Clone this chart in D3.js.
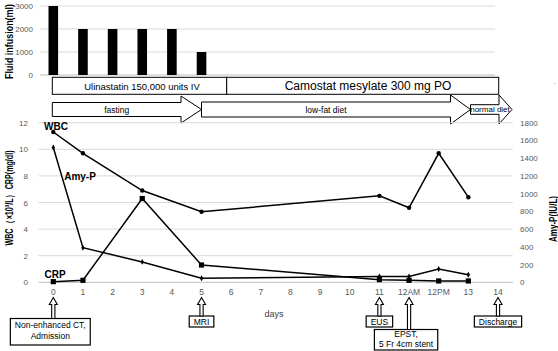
<!DOCTYPE html>
<html>
<head>
<meta charset="utf-8">
<script src="https://cdn.jsdelivr.net/npm/d3@7"></script>
<style>
body { margin: 0; background: #fff; }
svg { font-family: "Liberation Sans", Arial, sans-serif; }
</style>
</head>
<body>
<svg id="chart" width="558" height="351"></svg>
<script>
// category axis of the lower chart
const days = ["0","1","2","3","4","5","6","7","8","9","10","11","12AM","12PM","13","14"];

// fluid infusion (ml)
const fluidDays = ["0","1","2","3","4","5"];
const fluidValues = [3000, 2000, 2000, 2000, 2000, 1000];
const fluidTicks = [0, 1000, 2000, 3000];

// lab values
const labDays = ["0","1","3","5","11","12AM","12PM","13"];
const wbc = [11.3, 9.7, 6.9, 5.3, 6.5, 5.6, 9.7, 6.4];
const crp = [0.05, 0.15, 6.3, 1.3, 0.2, 0.15, 0.1, 0.1];
const amyP = [1520, 390, 230, 45, 65, 65, 150, 85];
const leftTicks = [0, 2, 4, 6, 8, 10, 12];
const rightTicks = [0, 200, 400, 600, 800, 1000, 1200, 1400, 1600, 1800];

// drug / diet bars
const drugs = [
  {label: "Ulinastatin 150,000 units IV", from: "0", to: "6"},
  {label: "Camostat mesylate 300 mg PO", from: "6", to: "14"}
];
const diets = [
  {label: "fasting", from: "0", to: "5"},
  {label: "low-fat diet", from: "5", to: "13"},
  {label: "normal diet", from: "13", to: "14"}
];

// events under the axis
const events = [
  {day: "0", lines: ["Non-enhanced CT,", "Admission"]},
  {day: "5", lines: ["MRI"]},
  {day: "11", lines: ["EUS"]},
  {day: "12AM", lines: ["EPST,", "5 Fr 4cm stent"]},
  {day: "14", lines: ["Discharge"]}
];

const svg = d3.select("#chart");
const grey = "#595959";

let x = d3.scalePoint().domain(days).range([53.3, 498]);
let step = x.step();
let plotLeft = x("0") - step / 2, plotRight = x("14") + step / 2;

// rotated bold title squeezed to a given length
function vTitle(label, cx, cy, len, size) {
  let t = svg.append("text")
    .attr("text-anchor", "middle")
    .style("font-size", size + "px").style("font-weight", "bold")
    .text(label);
  let k = len / t.node().getComputedTextLength();
  t.attr("transform", "translate(" + cx + "," + cy + ") rotate(-90) scale(" + k + ",1)");
}

// ---------- top: fluid infusion ----------
let yF = d3.scaleLinear().domain([0, 3000]).range([75, 6]);

svg.append("g").selectAll("line")
  .data(fluidTicks)
  .enter().append("line")
  .attr("x1", 40).attr("x2", 495)
  .attr("y1", d => yF(d)).attr("y2", d => yF(d))
  .attr("stroke", d => d == 0 ? "#bfbfbf" : "#d9d9d9")
  .attr("stroke-width", 1);

svg.append("g").selectAll("text")
  .data(fluidTicks)
  .enter().append("text")
  .attr("x", 33).attr("y", d => yF(d) + 3)
  .attr("text-anchor", "end")
  .attr("fill", grey)
  .style("font-size", "8px")
  .text(d => d);

svg.append("g").selectAll("rect")
  .data(fluidValues)
  .enter().append("rect")
  .attr("x", (d, i) => x(fluidDays[i]) - 4.8)
  .attr("width", 9.6)
  .attr("y", d => yF(d))
  .attr("height", d => yF(0) - yF(d))
  .attr("fill", "#000");

vTitle("Fluid infusion(ml)", 13, 41.5, 75, 10.5);

// drug boxes
let drugX = function (d) { return d == "0" ? 52.3 : d == "6" ? 226.7 : 498.7; };
svg.append("g").selectAll("rect")
  .data(drugs)
  .enter().append("rect")
  .attr("x", d => drugX(d.from))
  .attr("width", d => drugX(d.to) - drugX(d.from))
  .attr("y", 77.3).attr("height", 17)
  .attr("fill", "#fff").attr("stroke", "#000").attr("stroke-width", 1);
svg.append("g").selectAll("text")
  .data(drugs)
  .enter().append("text")
  .attr("x", (d, i) => i == 0 ? 142 : 368)
  .attr("y", (d, i) => i == 0 ? 89.5 : 90)
  .attr("text-anchor", "middle")
  .style("font-size", (d, i) => i == 0 ? "9.5px" : "12px")
  .text(d => d.label);

// diet arrows
let arrowPath = function (x0, x1, tip, bodyHalf, headHalf, cy) {
  return "M" + x0 + "," + (cy - bodyHalf) +
    "L" + x1 + "," + (cy - bodyHalf) +
    "L" + x1 + "," + (cy - headHalf) +
    "L" + tip + "," + cy +
    "L" + x1 + "," + (cy + headHalf) +
    "L" + x1 + "," + (cy + bodyHalf) +
    "L" + x0 + "," + (cy + bodyHalf) + "Z";
};
let dietGeom = [
  {x0: 52.3, x1: 181, tip: 201.5, bh: 7, hh: 13.5},
  {x0: 201.5, x1: 450.5, tip: 470.5, bh: 7.5, hh: 14.5},
  {x0: 470.5, x1: 499, tip: 512, bh: 4.8, hh: 14.5}
];
svg.append("g").selectAll("path")
  .data(diets)
  .enter().append("path")
  .attr("d", (d, i) => arrowPath(dietGeom[i].x0, dietGeom[i].x1, dietGeom[i].tip, dietGeom[i].bh, dietGeom[i].hh, 109.5))
  .attr("fill", "#fff").attr("stroke", "#000").attr("stroke-width", 1);
svg.append("g").selectAll("text")
  .data(diets)
  .enter().append("text")
  .attr("x", (d, i) => i == 2 ? 490 : (dietGeom[i].x0 + dietGeom[i].x1) / 2)
  .attr("y", (d, i) => i == 2 ? 112.3 : 112.5)
  .attr("text-anchor", "middle")
  .style("font-size", (d, i) => i == 2 ? "8px" : "8.5px")
  .text(d => d.label);

svg.append("circle").attr("cx", 555).attr("cy", 83.5).attr("r", 0.6).attr("fill", "#888");

// ---------- bottom: lab chart ----------
let yL = d3.scaleLinear().domain([0, 12]).range([282.3, 122.7]);
let yR = d3.scaleLinear().domain([0, 1800]).range([282.3, 122.7]);

svg.append("g").selectAll("line")
  .data(leftTicks)
  .enter().append("line")
  .attr("x1", plotLeft).attr("x2", plotRight)
  .attr("y1", d => yL(d)).attr("y2", d => yL(d))
  .attr("stroke", d => d == 0 ? "#bfbfbf" : "#d9d9d9");

svg.append("g").selectAll("text")
  .data(leftTicks)
  .enter().append("text")
  .attr("x", 28).attr("y", d => yL(d) + 3)
  .attr("text-anchor", "end")
  .attr("fill", grey).style("font-size", "8px")
  .text(d => d);

svg.append("g").selectAll("text")
  .data(rightTicks)
  .enter().append("text")
  .attr("x", 520).attr("y", d => yR(d) + 3)
  .attr("fill", grey).style("font-size", "8px")
  .text(d => d);

svg.append("g").selectAll("text")
  .data(days)
  .enter().append("text")
  .attr("x", d => x(d)).attr("y", 294.5)
  .attr("text-anchor", "middle")
  .attr("fill", grey).style("font-size", "8.5px")
  .text(d => d);

svg.append("text")
  .attr("x", 274).attr("y", 317)
  .attr("text-anchor", "middle")
  .attr("fill", "#404040").style("font-size", "9px")
  .text("days");

vTitle("WBC （×10³/L） CRP(mg/dl)", 13, 198, 96, 10.5);
vTitle("Amy-P(IU/L)", 556.5, 219, 46, 10);

let lineL = d3.line().x((d, i) => x(labDays[i])).y(d => yL(d));
let lineR = d3.line().x((d, i) => x(labDays[i])).y(d => yR(d));

svg.append("path").datum(amyP).attr("d", lineR)
  .attr("fill", "none").attr("stroke", "#000").attr("stroke-width", 1.5);
svg.append("path").datum(crp).attr("d", lineL)
  .attr("fill", "none").attr("stroke", "#000").attr("stroke-width", 1.5);
svg.append("path").datum(wbc).attr("d", lineL)
  .attr("fill", "none").attr("stroke", "#000").attr("stroke-width", 1.5);

svg.append("g").selectAll("circle")
  .data(wbc)
  .enter().append("circle")
  .attr("cx", (d, i) => x(labDays[i])).attr("cy", d => yL(d))
  .attr("r", 2.2).attr("fill", "#000");
svg.append("g").selectAll("rect")
  .data(crp)
  .enter().append("rect")
  .attr("x", (d, i) => x(labDays[i]) - 2.6).attr("y", d => yL(d) - 2.6)
  .attr("width", 5.2).attr("height", 5.2).attr("fill", "#000");
svg.append("g").selectAll("path.amy")
  .data(amyP)
  .enter().append("path")
  .attr("transform", (d, i) => "translate(" + x(labDays[i]) + "," + yR(d) + ")")
  .attr("d", d3.symbol().type(d3.symbolDiamond).size(10))
  .attr("fill", "#000");

let seriesLabels = [
  {t: "WBC", x: 56, y: 129.5},
  {t: "Amy-P", x: 80, y: 180},
  {t: "CRP", x: 55, y: 277.5}
];
svg.append("g").selectAll("text")
  .data(seriesLabels)
  .enter().append("text")
  .attr("x", d => d.x).attr("y", d => d.y)
  .attr("text-anchor", "middle")
  .style("font-size", "10px").style("font-weight", "bold")
  .text(d => d.t);

// ---------- events ----------
let evBox = {
  "0": {top: 318.5, h: 26.5, dx: -3, base: 9, gap: 11.5},
  "5": {top: 316, h: 11, dx: 0, base: 8.8, gap: 0},
  "11": {top: 316, h: 11, dx: 0, base: 8.8, gap: 0},
  "12AM": {top: 329.5, h: 20.5, dx: -3, base: 7.8, gap: 10},
  "14": {top: 316, h: 11, dx: 0, base: 8.8, gap: 0}
};
let evG = svg.append("g");
events.forEach(function (ev) {
  let cx = x(ev.day);
  let b = evBox[ev.day];
  let g = evG.append("g");
  let txt = g.selectAll("text").data(ev.lines).enter().append("text")
    .attr("y", (d, i) => b.top + b.base + i * b.gap)
    .attr("text-anchor", "middle")
    .style("font-size", "8.5px")
    .text(d => d);
  let w = d3.max(txt.nodes(), n => n.getComputedTextLength()) + 9;
  let bx = cx - w / 2 + b.dx;
  g.insert("rect", "text")
    .attr("x", bx).attr("y", b.top).attr("width", w).attr("height", b.h)
    .attr("fill", "#fff").attr("stroke", "#000").attr("stroke-width", 1.2);
  txt.attr("x", bx + w / 2);
  // hollow up arrow
  let top = 297.5, headBase = 304.5;
  g.append("path")
    .attr("d", "M" + cx + "," + top +
      "L" + (cx + 4) + "," + headBase +
      "L" + (cx + 1.6) + "," + headBase +
      "L" + (cx + 1.6) + "," + b.top +
      "L" + (cx - 1.6) + "," + b.top +
      "L" + (cx - 1.6) + "," + headBase +
      "L" + (cx - 4) + "," + headBase + "Z")
    .attr("fill", "#fff").attr("stroke", "#000").attr("stroke-width", 1.1);
});
</script>
</body>
</html>
